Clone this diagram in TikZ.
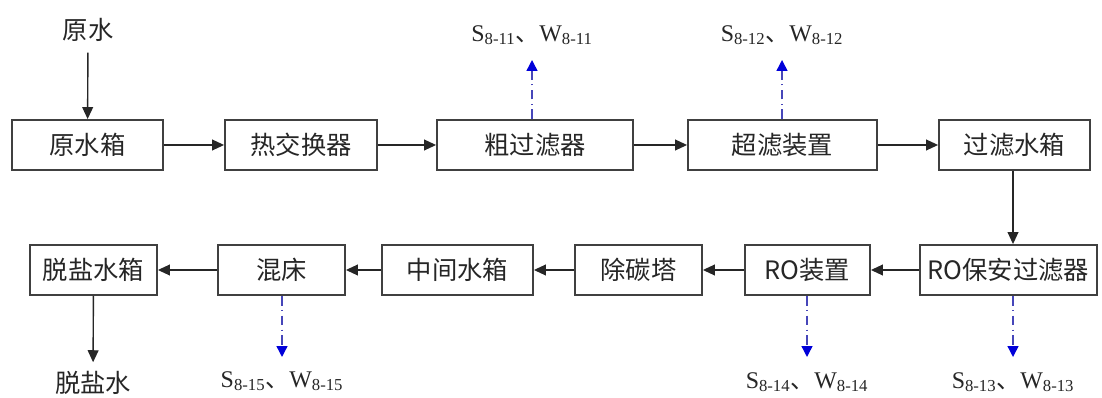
\documentclass[tikz,border=0pt]{standalone}
\usepackage{fontspec}
\setmainfont{Liberation Serif}
\newfontfamily\cjk{Noto Sans CJK SC}
\usetikzlibrary{arrows.meta}
\newdimen\px \px=0.025cm
\tikzset{
	box/.style={draw=black!75, line width=1.3pt, inner sep=0pt, minimum height=50\px, text=black!85, font=\cjk\fontsize{18}{20}\selectfont},
	tag/.style={inner sep=2pt, text=black!85, font=\cjk\fontsize{18}{20}\selectfont},
	wtag/.style={inner sep=1pt, text=black!85, font=\fontsize{17}{19}\selectfont},
	flow/.style={line width=1pt, draw=black!85, -{Triangle[length=0.3cm, width=0.27cm]}},
	waste/.style={line width=1pt, draw=blue!45!gray, dash pattern=on 7pt off 3pt on 1pt off 3pt, -{Triangle[length=0.27cm, width=0.27cm, color=blue!85!black]}}
}
\newcommand{\sw}[1]{S\textsubscript{8-#1}{\cjk 、}W\textsubscript{8-#1}}

\begin{document}
\begin{tikzpicture}[x=0.025cm, y=-0.025cm]
			%%%%% START %%%%%
			
			\useasboundingbox (0,0) rectangle (1102,398);
			
			% top row
			\node[tag] (raw) at (88,30) {原水};
			\node[box, minimum width=151\px] (tank) at (87.5,145) {原水箱};
			\node[box, minimum width=152\px] (heat) at (301,145) {热交换器};
			\node[box, minimum width=196\px] (coarse) at (535,145) {粗过滤器};
			\node[box, minimum width=189\px] (uf) at (782.5,145) {超滤装置};
			\node[box, minimum width=151\px] (ftank) at (1014.5,145) {过滤水箱};
			
			% bottom row
			\node[box, minimum width=127\px] (dtank) at (93.5,270) {脱盐水箱};
			\node[box, minimum width=127\px] (mixbed) at (281.5,270) {混床};
			\node[box, minimum width=151\px] (mtank) at (457.5,270) {中间水箱};
			\node[box, minimum width=127\px] (decarb) at (638.5,270) {除碳塔};
			\node[box, minimum width=125\px] (ro) at (807.5,270) {RO装置};
			\node[box, minimum width=177\px] (rosafe) at (1008.5,270) {RO保安过滤器};
			\node[tag] (desalt) at (93,383) {脱盐水};
			
			% waste labels
			\node[wtag] (w11) at (532,35) {\sw{11}};
			\node[wtag] (w12) at (782,35) {\sw{12}};
			\node[wtag] (w15) at (282,381) {\sw{15}};
			\node[wtag] (w14) at (807,382) {\sw{14}};
			\node[wtag] (w13) at (1013,382) {\sw{13}};
			\coordinate (p11) at (532,60);
			\coordinate (p12) at (782,60);
			\coordinate (p15) at (282,357);
			\coordinate (p14) at (807,357);
			\coordinate (p13) at (1013,357);
			
			% main flow
			\draw[flow, shorten <=0.2cm] (raw) -- (tank);
			\draw[flow] (tank) -- (heat);
			\draw[flow] (heat) -- (coarse);
			\draw[flow] (coarse) -- (uf);
			\draw[flow] (uf) -- (ftank);
			\draw[flow] (ftank.south -| p13) -- (rosafe.north -| p13);
			\draw[flow] (rosafe) -- (ro);
			\draw[flow] (ro) -- (decarb);
			\draw[flow] (decarb) -- (mtank);
			\draw[flow] (mtank) -- (mixbed);
			\draw[flow] (mixbed) -- (dtank);
			\draw[flow, shorten >=0.15cm] (dtank) -- (desalt);
			
			% discharges
			\draw[waste] (coarse.north -| p11) -- (p11);
			\draw[waste] (uf.north -| p12) -- (p12);
			\draw[waste] (mixbed.south -| p15) -- (p15);
			\draw[waste] (ro.south -| p14) -- (p14);
			\draw[waste] (rosafe.south -| p13) -- (p13);
			
			%%%%% END %%%%%
\end{tikzpicture}
\end{document}
